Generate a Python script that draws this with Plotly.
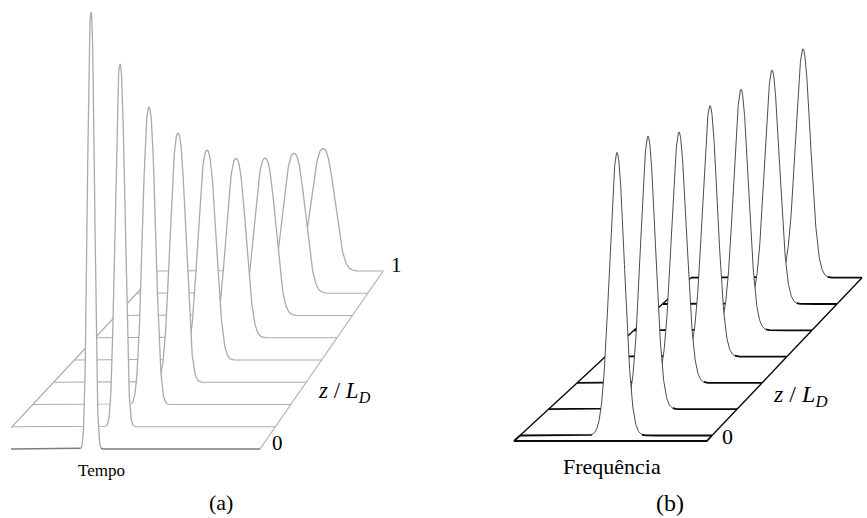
import numpy as np
import plotly.graph_objects as go

W, H = 867, 518

# (a) time domain: normalised peak power and pulse width (units of T0) at each z/L_D step
tempo_peak = [1.00, 0.83, 0.68, 0.57, 0.48, 0.41, 0.36, 0.32, 0.28]
tempo_width = [1.1, 1.5, 2.0, 2.4, 2.75, 3.0, 3.2, 3.4, 3.55]

# (b) frequency domain: normalised spectral peak and spectral width at each step
freq_peak = [1.00, 0.965, 0.887, 0.887, 0.852, 0.827, 0.809]
freq_width = [1.0, 1.0, 1.0, 1.0, 1.0, 1.0, 1.0]

z_ticks_a = ["0", "1"]
z_ticks_b = ["0"]
axis_title_a = "Tempo"
axis_title_b = "Frequência"
z_title = "<i>z</i> / <i>L</i><sub><i>D</i></sub>"

# oblique projection of each panel onto the page (pixel units)
geom_a = dict(base0=449, base_step=-22.25, center0=91, center_step=29,
              left0=-8.8, left_step=20.8, right0=260, right_step=15.4,
              clip=11, amp=437, unit=3.2, order=2.4, front=0)
geom_b = dict(base0=435.5, base_step=-26.3, center0=617, center_step=31,
              left0=520, left_step=28.5, right0=712, right_step=25.0,
              clip=0, amp=283, unit=7.4, order=2.0, front=5.5)

style_a = dict(pulse="rgb(170,170,170)", pulse_w=1.3, base="rgb(172,172,172)", base_w=1.1,
               edge="rgb(172,172,172)", edge_w=1.1, front="rgb(125,125,125)", front_w=1.6)
style_b = dict(pulse="rgb(55,55,55)", pulse_w=0.9, base="rgb(10,10,10)", base_w=1.8,
               edge="rgb(10,10,10)", edge_w=1.4, front="rgb(10,10,10)", front_w=1.8)

fig = go.Figure()


def line(x, y, color, width):
    fig.add_trace(go.Scatter(x=x, y=y, mode="lines", hoverinfo="skip", showlegend=False,
                             line=dict(color=color, width=width), connectgaps=False))


def waterfall(peaks, widths, g, st):
    n = len(peaks)

    def ends(k):
        base = g["base0"] + k * g["base_step"]
        left = g["left0"] + k * g["left_step"]
        right = g["right0"] + k * g["right_step"]
        return base, left, right

    for k in reversed(range(n)):
        base, left, right = ends(k)
        # platform edges between this slice and the one behind it
        if k < n - 1:
            b2, l2, r2 = ends(k + 1)
            lx0, ly0 = left, base
            if lx0 < g["clip"]:
                t = (g["clip"] - lx0) / (l2 - lx0)
                lx0, ly0 = g["clip"], base + t * (b2 - base)
            line([lx0, l2], [ly0, b2], st["edge"], st["edge_w"])
            line([right, r2], [base, b2], st["edge"], st["edge_w"])

        x0 = max(left, g["clip"])
        x = np.linspace(x0, right, 900)
        c = g["center0"] + k * g["center_step"]
        s = widths[k] * g["unit"]
        h = peaks[k] * g["amp"] * np.exp(-0.5 * np.abs((x - c) / s) ** g["order"])
        y = base - h

        # opaque area under the curve hides the slices behind it
        fig.add_trace(go.Scatter(x=x, y=y, mode="lines", fill="toself", fillcolor="white",
                                 line=dict(width=0, color="white"), hoverinfo="skip",
                                 showlegend=False))

        m = h >= 1.0
        mm = m | np.roll(m, 1) | np.roll(m, -1)
        is_front = k == 0 and g["front"] == 0
        line(x, np.where(m, np.nan, y),
             st["front"] if is_front else st["base"],
             st["front_w"] if is_front else st["base_w"])
        line(x, np.where(mm, y, np.nan), st["pulse"], st["pulse_w"])

    # front edge of the platform
    if g["front"] > 0:
        base, left, right = ends(0)
        d = g["front"]
        lf = left - d * g["left_step"] / abs(g["base_step"])
        rf = right - d * g["right_step"] / abs(g["base_step"])
        line([left, lf, rf, right], [base, base + d, base + d, base], st["front"], st["front_w"])


waterfall(tempo_peak, tempo_width, geom_a, style_a)
waterfall(freq_peak, freq_width, geom_b, style_b)

serif = "Liberation Serif, Times New Roman, serif"


def label(x, y, text, size, anchor="center"):
    fig.add_annotation(x=x, y=y, text=text, showarrow=False, xanchor=anchor, yanchor="middle",
                       font=dict(family=serif, size=size, color="black"))


# panel (a) labels
label(396, 265, z_ticks_a[1], 21)
label(277, 443, z_ticks_a[0], 21)
label(316, 392, z_title, 23, "left")
label(101, 470, axis_title_a, 17)
label(221, 502, "(a)", 22)

# panel (b) labels
label(727, 436, z_ticks_b[0], 22)
label(771, 396, z_title, 24, "left")
label(612, 466, axis_title_b, 22)
label(670, 503, "(b)", 24)

fig.update_layout(
    width=W, height=H, margin=dict(l=0, r=0, t=0, b=0),
    paper_bgcolor="white", plot_bgcolor="white",
    xaxis=dict(range=[0, W], visible=False, fixedrange=True),
    yaxis=dict(range=[H, 0], visible=False, fixedrange=True),
    showlegend=False,
)

fig.write_html("out.html")
